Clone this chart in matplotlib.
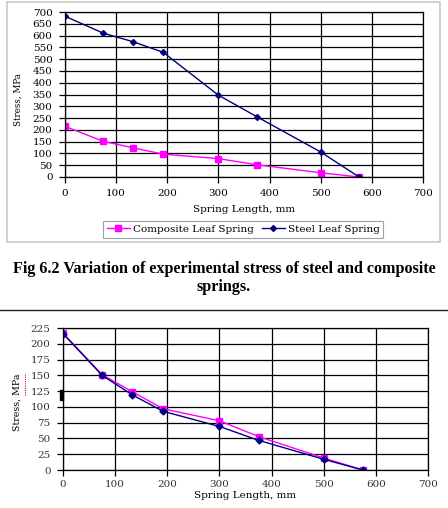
import matplotlib
matplotlib.use("Agg")
import matplotlib.pyplot as plt
from matplotlib.patches import Rectangle
from matplotlib.lines import Line2D

# ---- data ----
length_mm = [0, 75, 133, 192, 300, 375, 500, 575]
top_composite = [215, 151, 124, 97, 78, 52, 18, 0]
top_steel = [682, 610, 574, 529, 347, 256, 106, 0]
bot_composite = [217, 151, 124, 97, 78, 53, 19, 0]
bot_steel = [216, 150, 119, 93, 69, 47, 17, 0]
top_yticks = list(range(0, 701, 50))
bot_yticks = list(range(0, 226, 25))
xticks = list(range(0, 701, 100))
series_names = ["Composite Leaf Spring", "Steel Leaf Spring"]
caption = "Fig 6.2 Variation of experimental stress of steel and composite\nsprings."

W, H = 448, 508
DPI = 100
fig = plt.figure(figsize=(W / DPI, H / DPI), dpi=DPI)
fig.patch.set_facecolor("white")

MAG = "#FF00FF"
NAVY = "#000080"
SERIF = ["DejaVu Serif"]


def px_axes(l, t, r, b):
    return fig.add_axes([l / W, (H - b) / H, (r - l) / W, (b - t) / H])


def style(ax, yticks, ymax, tickcolor, xpad):
    ax.set_xlim(0, 700)
    ax.set_ylim(0, ymax)
    ax.set_xticks(xticks)
    ax.set_yticks(yticks)
    ax.grid(True, color="black", linewidth=0.9)
    ax.set_axisbelow(True)
    for s in ax.spines.values():
        s.set_color("black")
        s.set_linewidth(0.9)
    ax.tick_params(direction="out", length=4, width=0.9, colors="black",
                   labelsize=7.5, labelcolor=tickcolor)
    ax.tick_params(axis="x", pad=xpad)
    ax.tick_params(axis="y", pad=5)
    for lab in ax.get_xticklabels() + ax.get_yticklabels():
        lab.set_family(SERIF)


# outer chart frame of the top figure
fig.add_artist(Rectangle((7 / W, (H - 242) / H), 433 / W, 240 / H,
                         transform=fig.transFigure, fill=False,
                         edgecolor="#c8c8c8", linewidth=1.2))

# ---- top chart ----
ax1 = px_axes(65, 12, 423, 177)
ax1.plot(length_mm, top_composite, color=MAG, marker="s", markersize=4.5,
         linewidth=1.0, label=series_names[0])
ax1.plot(length_mm, top_steel, color=NAVY, marker="D", markersize=3,
         linewidth=1.0, label=series_names[1])
style(ax1, top_yticks, 700, "black", 5)
ax1.set_xlabel("Spring Length, mm", family=SERIF, fontsize=7.5, labelpad=5)
fig.text(18 / W, (H - 100) / H, "Stress, MPa", rotation=90, ha="center",
         va="center", family=SERIF, fontsize=6.3)

handles = [Line2D([], [], color=MAG, marker="s", markersize=4.5, linewidth=1.0),
           Line2D([], [], color=NAVY, marker="D", markersize=3, linewidth=1.0)]
leg = fig.legend(handles, series_names, loc="upper left",
                 bbox_to_anchor=(103 / W, (H - 221) / H), ncol=2,
                 frameon=True, fancybox=False, edgecolor="#888888",
                 prop={"family": SERIF, "size": 7.5}, handlelength=2.2,
                 handletextpad=0.3, columnspacing=0.8, borderpad=0.35,
                 borderaxespad=0)
leg.get_frame().set_linewidth(0.8)

# ---- caption ----
fig.text(0.5, (H - 278) / H, caption, ha="center", va="center",
         family=["Liberation Serif"], fontweight="bold", fontsize=11.6,
         linespacing=1.2)

# separator line
fig.add_artist(Line2D([0, 1], [(H - 310) / H] * 2, transform=fig.transFigure,
                      color="#222222", linewidth=1.0))

# ---- bottom chart ----
ax2 = px_axes(63, 328, 428, 470)
ax2.plot(length_mm, bot_composite, color=MAG, marker="s", markersize=4.5,
         linewidth=1.0)
ax2.plot(length_mm, bot_steel, color=NAVY, marker="D", markersize=3.5,
         linewidth=1.0)
style(ax2, bot_yticks, 225, "#333333", 3)
ax2.set_xlabel("Spring Length, mm", family=SERIF, fontsize=7.5, labelpad=2)
fig.text(17 / W, (H - 402) / H, "Stress, MPa", rotation=90, ha="center",
         va="center", family=SERIF, fontsize=6.8)
# spell-check squiggle under "MPa" and small stray mark
fig.add_artist(Line2D([25 / W, 25 / W], [(H - 395) / H, (H - 373) / H],
                      transform=fig.transFigure, color="red",
                      linewidth=0.8, linestyle=(0, (1, 1))))
fig.add_artist(Rectangle((60 / W, (H - 400) / H), 2.5 / W, 10 / H,
                         transform=fig.transFigure, color="black"))

fig.savefig("out.png", dpi=DPI, facecolor="white")
